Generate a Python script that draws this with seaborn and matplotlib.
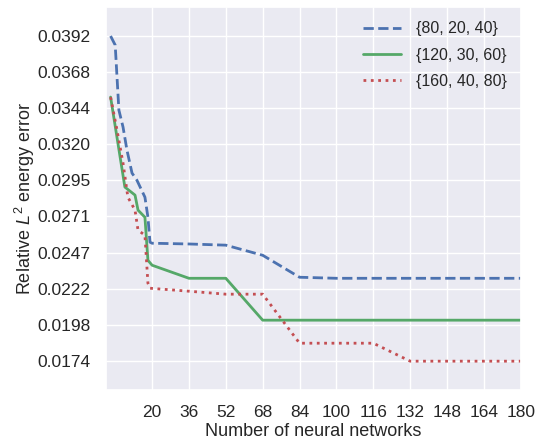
import numpy as np
import pandas as pd
import matplotlib
matplotlib.use("Agg")
import matplotlib.pyplot as plt
import seaborn as sns

# series
x_80 = [2, 4, 5.6, 7.4, 9.1, 11.3, 13.4, 16.9, 18.2, 19.1, 20, 36, 52, 68, 84, 100, 180]
y_80 = [0.03927, 0.03866, 0.03428, 0.03314, 0.03159, 0.03004, 0.02957, 0.02842,
        0.02707, 0.02539, 0.02532, 0.02527, 0.02519, 0.02451, 0.02303, 0.02296, 0.02296]

x_120 = [2, 8.2, 12.6, 13.9, 16.9, 18.2, 20, 36, 52, 68, 180]
y_120 = [0.03516, 0.02910, 0.02856, 0.02755, 0.02707, 0.02417, 0.02384,
         0.02296, 0.02296, 0.02014, 0.02014]

x_160 = [2, 4.8, 7.4, 9.5, 12.6, 13.9, 16.9, 18.2, 19.1, 36, 52, 68, 84, 116, 132, 180]
y_160 = [0.03515, 0.03293, 0.03071, 0.02842, 0.02755, 0.02620, 0.02586, 0.02263,
         0.02229, 0.02209, 0.02189, 0.02189, 0.01859, 0.01859, 0.01738, 0.01738]

labels = ["{80, 20, 40}", "{120, 30, 60}", "{160, 40, 80}"]
x_ticks = [20, 36, 52, 68, 84, 100, 116, 132, 148, 164, 180]
y_tick_labels = ["0.0174", "0.0198", "0.0222", "0.0247", "0.0271",
                 "0.0295", "0.0320", "0.0344", "0.0368", "0.0392"]

df = pd.concat([
    pd.DataFrame({"n": x_80, "err": y_80, "config": labels[0]}),
    pd.DataFrame({"n": x_120, "err": y_120, "config": labels[1]}),
    pd.DataFrame({"n": x_160, "err": y_160, "config": labels[2]}),
])

sns.set_theme(style="darkgrid")
plt.rcParams["font.family"] = ["Liberation Sans", "DejaVu Sans"]
plt.rcParams["mathtext.fontset"] = "custom"
plt.rcParams["mathtext.rm"] = "Liberation Sans"
plt.rcParams["mathtext.it"] = "Liberation Sans:italic"

fig = plt.figure(figsize=(5.38, 4.41), dpi=100)
ax = fig.add_axes([0.197, 0.116, 0.771, 0.868])

colors = sns.color_palette("deep6")[:3]
styles = ["--", "-", ":"]
for lab, c, ls in zip(labels, colors, styles):
    sub = df[df["config"] == lab]
    sns.lineplot(data=sub, x="n", y="err", ax=ax, color=c, linestyle=ls,
                 linewidth=2, label=lab, sort=True, errorbar=None)

ax.set_xlim(0, 180)
ax.set_ylim(0.01545, 0.04122)
ax.set_xticks(x_ticks)
ax.set_yticks(np.linspace(0.01742, 0.039245, len(y_tick_labels)))
ax.set_yticklabels(y_tick_labels)
ax.tick_params(labelsize=12.5, pad=5)
ax.set_xlabel("Number of neural networks", fontsize=13, labelpad=2)
ax.set_ylabel("Relative $L^2$ energy error", fontsize=13, labelpad=0)

ax.legend(loc="upper right", frameon=False, fontsize=11.5, handlelength=2.4,
          labelspacing=0.7, borderaxespad=0.5, handletextpad=0.9)

fig.savefig("out.png", dpi=100)
